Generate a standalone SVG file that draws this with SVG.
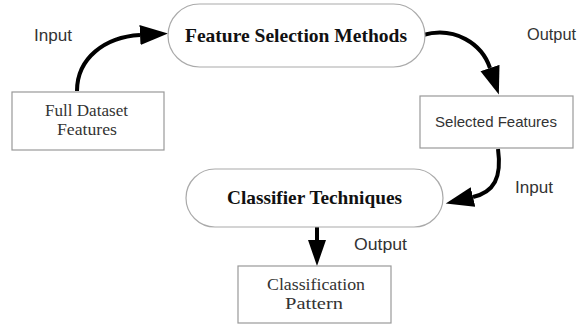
<svg xmlns="http://www.w3.org/2000/svg" width="579" height="325" viewBox="0 0 579 325">
<defs>
<style>
.pill{fill:#fff;stroke:#aaa;stroke-width:1.2}
.box{fill:#fff;stroke:#999;stroke-width:1.2}
.title{font-family:"Liberation Serif",serif;font-weight:bold;font-size:19px;fill:#111}
.serif{font-family:"Liberation Serif",serif;font-size:17px;fill:#333}
.sans{font-family:"Liberation Sans",sans-serif;font-size:15px;fill:#333}
.lbl{font-family:"Liberation Sans",sans-serif;font-size:16px;fill:#333}
.conn{fill:none;stroke:#000;stroke-width:4}
</style>
<marker id="ah" markerUnits="userSpaceOnUse" markerWidth="30" markerHeight="22" refX="0" refY="10" orient="auto">
<path d="M0,0 L28,10 L0,20 z" fill="#000"/>
</marker>
<marker id="ahs" markerUnits="userSpaceOnUse" markerWidth="30" markerHeight="22" refX="0" refY="9" orient="auto">
<path d="M0,0 L26,9 L0,18 z" fill="#000"/>
</marker>
</defs>
<rect width="579" height="325" fill="#fff"/>
<g id="connectors">
<path class="conn" d="M77,91 C77,58 105,37 140,35" marker-end="url(#ah)"/>
<path class="conn" d="M423,35 C455,26 482,44 490,68" marker-end="url(#ah)"/>
<path class="conn" d="M498,149 C502,178 494,192 473,197" marker-end="url(#ah)"/>
<path class="conn" d="M317,227 L317,240" marker-end="url(#ahs)"/>
</g>
<g id="feature-selection">
<rect class="pill" x="168" y="4" width="257" height="63" rx="31.5"/>
<text class="title" x="185" y="42" textLength="222" lengthAdjust="spacingAndGlyphs">Feature Selection Methods</text>
</g>
<g id="full-dataset">
<rect class="box" x="12" y="92" width="152" height="58"/>
<text class="serif" x="45" y="116" textLength="83" lengthAdjust="spacingAndGlyphs">Full Dataset</text>
<text class="serif" x="57" y="135" textLength="60" lengthAdjust="spacingAndGlyphs">Features</text>
</g>
<g id="selected-features">
<rect class="box" x="420" y="96" width="153" height="52"/>
<text class="sans" x="435" y="127" textLength="122" lengthAdjust="spacingAndGlyphs">Selected Features</text>
</g>
<g id="classifier">
<rect class="pill" x="186" y="169" width="257" height="58" rx="29"/>
<text class="title" x="227" y="204" textLength="175" lengthAdjust="spacingAndGlyphs">Classifier Techniques</text>
</g>
<g id="classification-pattern">
<rect class="box" x="238" y="266" width="153" height="57"/>
<text class="serif" x="267" y="290" textLength="98" lengthAdjust="spacingAndGlyphs">Classification</text>
<text class="serif" x="285" y="309" textLength="58" lengthAdjust="spacingAndGlyphs">Pattern</text>
</g>
<g id="labels">
<text class="lbl" x="34" y="41" textLength="38" lengthAdjust="spacingAndGlyphs">Input</text>
<text class="lbl" x="527" y="40" textLength="49" lengthAdjust="spacingAndGlyphs">Output</text>
<text class="lbl" x="515" y="193" textLength="38" lengthAdjust="spacingAndGlyphs">Input</text>
<text class="lbl" x="354" y="250" textLength="53" lengthAdjust="spacingAndGlyphs">Output</text>
</g>
</svg>
